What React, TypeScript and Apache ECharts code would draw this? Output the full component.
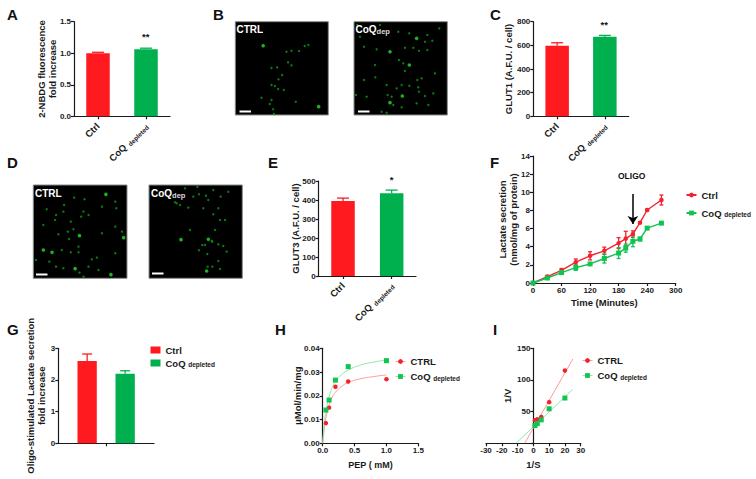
import React, { useEffect, useRef } from "react";
import * as echarts from "echarts";

const FONT = "Liberation Sans";
const RED = "#ff1a1f";
const GREEN = "#00b04f";
const RED_MARK = "#f5222d";
const GREEN_MARK = "#11c452";
const RED_FIT = "#ff9a9a";
const GREEN_FIT = "#8fe8a8";
const INK = "#1a1a1a";

const barCategories = ["Ctrl", "CoQ depleted"];
const aValues = [1.0, 1.065];
const aErrors = [0.015, 0.015];
const cValues = [597, 672];
const cErrors = [25, 12];
const eValues = [395, 435];
const eErrors = [15, 17];
const gCtrl = 2.6;
const gCtrlErr = 0.22;
const gCoq = 2.2;
const gCoqErr = 0.09;

const fTimes = [0, 30, 60, 90, 120, 150, 180, 195, 210, 225, 240, 270];
const fCtrl = [0, 0.7, 1.4, 2.3, 3.0, 3.55, 4.4, 4.9, 5.4, 6.65, 8.05, 9.15];
const fCtrlErr = [0, 0.15, 0.2, 0.35, 0.45, 0.4, 0.6, 0.8, 0.35, 0.1, 0.1, 0.55];
const fCoq = [0, 0.55, 1.15, 1.7, 2.1, 2.7, 3.3, 3.85, 4.6, 4.85, 6.05, 6.6];
const fCoqErr = [0, 0.1, 0.15, 0.3, 0.1, 0.5, 0.6, 0.45, 0.6, 0.2, 0.1, 0.1];

const hCtrlPts = [[0.05, 0.0085], [0.1, 0.015], [0.2, 0.0238], [0.4, 0.026], [1, 0.027]];
const hCoqPts = [[0.05, 0.014], [0.1, 0.0182], [0.2, 0.0266], [0.4, 0.0323], [1, 0.0348]];
const hCtrlFit = [[0, 0], [0.025, 0.006], [0.05, 0.0105], [0.1, 0.016], [0.15, 0.0195], [0.2, 0.0215], [0.3, 0.024], [0.4, 0.0256], [0.6, 0.0272], [0.8, 0.0281], [1, 0.0288]];
const hCoqFit = [[0, 0], [0.025, 0.0085], [0.05, 0.0135], [0.1, 0.0195], [0.15, 0.0235], [0.2, 0.026], [0.3, 0.029], [0.4, 0.0308], [0.6, 0.033], [0.8, 0.0342], [1, 0.0351]];

const iCtrlPts = [[1, 36.5], [2.5, 38], [5, 41.5], [10, 65], [20, 115]];
const iCoqPts = [[1, 28], [2.5, 31], [5, 37], [10, 54.5], [20, 71.5]];
const iCtrlFit = [[-5.5, 0], [25, 133]];
const iCoqFit = [[-11, 0], [25, 85]];

// Fluorescent spots of the four micrographs: [x, y, bright?] on a 0-280 field
const spotsB1 = [[84, 72, 1], [154, 90], [169, 87], [192, 88], [209, 73], [220, 70], [109, 139], [126, 137], [159, 122], [169, 131], [141, 160], [130, 173], [109, 190], [119, 193], [129, 202], [146, 205], [79, 228], [109, 235], [104, 247], [182, 240], [114, 263], [116, 277], [251, 255, 1]];
const spotsB2 = [[108, 90, 1], [166, 35], [188, 50, 1], [213, 60], [220, 40], [235, 57], [256, 20], [133, 30], [78, 10], [30, 75], [68, 83], [153, 78], [178, 78], [195, 87], [220, 85], [135, 115], [148, 125], [166, 130, 1], [153, 148], [63, 130], [64, 167], [30, 175], [6, 220], [38, 225], [98, 190], [128, 200], [143, 190], [166, 192], [190, 175], [203, 170], [193, 197], [195, 210], [243, 155], [101, 220], [113, 225], [108, 243, 1], [118, 250], [145, 223, 1], [213, 223], [188, 245], [223, 250], [83, 270], [98, 273], [143, 257], [18, 45], [10, 10], [238, 215]];
const spotsD1 = [[217, 28, 1], [153, 43], [122, 38], [92, 60], [40, 73], [68, 90], [65, 105], [90, 80], [30, 120], [112, 110], [150, 80], [143, 95], [165, 90], [205, 65], [248, 70], [245, 50], [120, 133], [103, 140], [75, 148], [138, 152, 1], [107, 162], [205, 145], [270, 158, 1], [245, 125], [265, 140], [30, 195, 1], [56, 202, 1], [85, 195], [112, 202], [135, 185], [135, 202], [8, 225], [48, 230], [68, 245], [125, 251, 1], [138, 263], [175, 223], [190, 218], [195, 255], [245, 205], [232, 269, 1], [150, 275], [90, 250], [165, 245]];
const spotsD2 = [[83, 55], [93, 60], [78, 52], [133, 35], [150, 28], [171, 32], [178, 45], [193, 15], [238, 20], [145, 5], [108, 10], [118, 68], [163, 70], [215, 35], [208, 70], [193, 88], [213, 105], [228, 105], [198, 135], [123, 135], [96, 164, 1], [160, 180], [168, 180], [178, 163, 1], [190, 170], [208, 178], [223, 183], [150, 196], [175, 207], [233, 200], [173, 258, 1], [176, 245], [190, 245], [213, 252], [208, 228], [188, 168]];

const rich = {
  a: { fontFamily: FONT, fontWeight: "bold", fontSize: 9.5, color: INK },
  b: { fontFamily: FONT, fontWeight: "bold", fontSize: 6.5, color: INK, verticalAlign: "bottom", padding: [3, 0, 0, 0] },
};
const coqLabel = "{a|CoQ} {b|depleted}";
const legendText = (name: string) => {
  const label = name.slice(2);
  return label === "CoQ" ? coqLabel : `{a|${label}}`;
};

const grids = [
  { left: 74, top: 21.7, width: 96, height: 94.6 }, // A
  { left: 533.3, top: 21.7, width: 95.4, height: 94.6 }, // C
  { left: 318.7, top: 181, width: 97.3, height: 95 }, // E
  { left: 533, top: 156, width: 142.7, height: 127 }, // F
  { left: 58.3, top: 348.3, width: 95.7, height: 95 }, // G
  { left: 322.7, top: 348.3, width: 95.6, height: 95 }, // H
  { left: 486, top: 348.3, width: 94.7, height: 95 }, // I
  { left: 235.3, top: 21.7, width: 93, height: 93.3 }, // B1
  { left: 354, top: 21.7, width: 93.3, height: 93.3 }, // B2
  { left: 33.3, top: 185, width: 93.7, height: 93.3 }, // D1
  { left: 149, top: 185, width: 93.3, height: 93.3 }, // D2
];

const axisLine = { show: true, onZero: false, lineStyle: { color: INK, width: 1.2 } };
const axisTick = { show: true, length: 3, lineStyle: { color: INK, width: 1.2 } };
const tickLabel = { fontFamily: FONT, fontWeight: "bold", fontSize: 8, color: INK, margin: 3 };
const nameStyle = { fontFamily: FONT, fontWeight: "bold", fontSize: 9.5, color: INK, lineHeight: 11 };

const valueY = (gridIndex: number, max: number, interval: number, name: string, nameGap: number, digits = 0, extra: any = {}) => ({
  type: "value", gridIndex, min: 0, max, interval, name, nameLocation: "middle", nameGap, nameMoveOverlap: false,
  nameTextStyle: nameStyle, axisLine, axisTick, splitLine: { show: false },
  axisLabel: { ...tickLabel, formatter: (v: number) => v.toFixed(digits) }, ...extra,
});

const categoryX = (gridIndex: number) => ({
  type: "category", gridIndex, data: barCategories, axisLine,
  axisTick: { ...axisTick, alignWithLabel: true },
  axisLabel: {
    rotate: 45, margin: 8, interval: 0, rich,
    formatter: (v: string) => (v === "Ctrl" ? "{a|Ctrl}" : coqLabel),
  },
});

const errorBars = (xAxisIndex: number, yAxisIndex: number, data: number[][], color: string | string[], both: boolean, cap: number, offset = 0) => ({
  type: "custom", xAxisIndex, yAxisIndex, silent: true, data, encode: { x: 0, y: 1 },
  renderItem: (params: any, api: any) => {
    const x = api.value(0), y = api.value(1), e = api.value(2);
    const t = api.coord([x, y + e]);
    const b = api.coord([x, both ? y - e : y]);
    const stroke = Array.isArray(color) ? color[params.dataIndex] : color;
    const style = { stroke, lineWidth: 1.3, fill: "none" };
    const px = t[0] + offset;
    const children: any[] = [
      { type: "line", shape: { x1: px, y1: t[1], x2: px, y2: b[1] }, style },
      { type: "line", shape: { x1: px - cap, y1: t[1], x2: px + cap, y2: t[1] }, style },
    ];
    if (both) children.push({ type: "line", shape: { x1: px - cap, y1: b[1], x2: px + cap, y2: b[1] }, style });
    return { type: "group", children };
  },
});

const twoBars = (axis: number, values: number[]) => ({
  type: "bar", xAxisIndex: axis, yAxisIndex: axis, barWidth: 23.5, silent: true,
  data: values.map((value, i) => ({ value, itemStyle: { color: i === 0 ? RED : GREEN } })),
});

const pairErr = (values: number[], errs: number[]) => values.map((v, i) => [i, v, errs[i]]);
const imageSeries = (axis: number, data: number[][]) => ({
  type: "scatter", xAxisIndex: axis, yAxisIndex: axis, silent: true, data,
  symbolSize: (v: number[]) => (v[2] ? 3.6 : 2.4),
  itemStyle: { color: (p: any) => (p.value[2] ? "#25e025" : "#0c9a1a") },
});

const legendBase = (left: number, top: number, itemGap: number, data: any[], extra: any = {}) => ({
  show: true, orient: "vertical", left, top, itemGap, itemWidth: 10, itemHeight: 6, padding: 0, data,
  formatter: legendText, selectedMode: false, textStyle: { rich, fontFamily: FONT, fontWeight: "bold", fontSize: 9.5, color: INK },
  ...extra,
});
const withLine = (name: string, color: string) => ({ name, lineStyle: { color, width: 1, opacity: 1, type: "solid" } });

const letter = (text: string, x: number, y: number) => ({
  type: "text", x, y, z: 20, style: { text, fontFamily: FONT, fontWeight: "bold", fontSize: 15, fill: "#111", verticalAlign: "middle" },
});
const star = (text: string, x: number, y: number) => ({
  type: "text", x, y, z: 20, style: { text, fontFamily: FONT, fontWeight: "bold", fontSize: 9.5, fill: "#111", align: "center", verticalAlign: "middle" },
});
const microRich = {
  a: { fontFamily: FONT, fontWeight: "bold", fontSize: 10, fill: "#fff", color: "#fff" },
  b: { fontFamily: FONT, fontWeight: "bold", fontSize: 7.5, fill: "#ddd", color: "#ddd", verticalAlign: "bottom", padding: [4, 0, 0, 0] },
};
const microLabel = (text: string, x: number, y: number) => ({
  type: "text", x, y, z: 20, style: { text, rich: microRich, verticalAlign: "middle" },
});
const scaleBar = (x: number, y: number) => ({
  type: "rect", z: 20, shape: { x, y, width: 11.5, height: 2 }, style: { fill: "#fff" },
});

export default function App() {
  const ref = useRef<HTMLDivElement>(null);
  useEffect(() => {
    const chart = echarts.init(ref.current!, undefined, { renderer: "svg" });
    const hiddenAxes = [7, 8, 9, 10];
    const option: any = {
      animation: false,
      backgroundColor: "#ffffff",
      textStyle: { fontFamily: FONT },
      grid: grids.map((g, i) => ({
        ...g, containLabel: false,
        ...(i >= 7 ? { show: true, backgroundColor: "#000", borderColor: "#8a8a8a", borderWidth: 1 } : {}),
      })),
      xAxis: [
        categoryX(0),
        categoryX(1),
        categoryX(2),
        {
          type: "value", gridIndex: 3, min: 0, max: 300, interval: 60, name: "Time (Minutes)", nameLocation: "middle", nameGap: 14, nameMoveOverlap: false,
          nameTextStyle: { ...nameStyle, fontSize: 9.5 }, axisLine, axisTick, splitLine: { show: false }, axisLabel: tickLabel,
        },
        {
          type: "category", gridIndex: 4, data: [""], axisLine, axisTick: { ...axisTick, alignWithLabel: true },
          axisLabel: { show: false },
        },
        {
          type: "value", gridIndex: 5, min: 0, max: 1.5, interval: 0.5, name: "PEP ( mM)", nameLocation: "middle", nameGap: 16, nameMoveOverlap: false,
          nameTextStyle: { ...nameStyle, fontSize: 9 }, axisLine, axisTick, splitLine: { show: false },
          axisLabel: { ...tickLabel, formatter: (v: number) => v.toFixed(1) },
        },
        {
          type: "value", gridIndex: 6, min: -30, max: 30, interval: 10, name: "1/S", nameLocation: "middle", nameGap: 16, nameMoveOverlap: false,
          nameTextStyle: nameStyle, axisLine, axisTick, splitLine: { show: false }, axisLabel: tickLabel,
        },
        ...hiddenAxes.map((gridIndex) => ({ type: "value", gridIndex, min: 0, max: 280, show: false, splitLine: { show: false } })),
      ],
      yAxis: [
        valueY(0, 1.5, 0.5, "2-NBDG fluorescence\nfold increase", 16, 1),
        valueY(1, 800, 200, "GLUT1 (A.F.U. / cell)", 19),
        valueY(2, 500, 100, "GLUT3 (A.F.U. / cell)", 18),
        valueY(3, 14, 2, "Lactate secretion\n(nmol/mg of protein)", 14),
        valueY(4, 3, 1, "Oligo-stimulated Lactate secretion\nfold increase", 11),
        valueY(5, 0.04, 0.01, "μMol/min/mg", 20, 2),
        valueY(6, 150, 50, "1/V", 20, 0, {
          offset: -47.35,
          axisLabel: { ...tickLabel, formatter: (v: number) => (v === 0 ? "" : String(v)) },
        }),
        ...hiddenAxes.map((gridIndex) => ({ type: "value", gridIndex, min: 0, max: 280, inverse: true, show: false, splitLine: { show: false } })),
      ],
      legend: [
        legendBase(685.5, 190, 8, ["F Ctrl", "F CoQ"]),
        legendBase(150.5, 345, 3, ["G Ctrl", "G CoQ"], { icon: "rect", itemHeight: 7 }),
        legendBase(395, 356.5, 5, [withLine("H CTRL", RED_FIT), withLine("H CoQ", GREEN_FIT)]),
        legendBase(582, 355.5, 5, [withLine("I CTRL", RED_FIT), withLine("I CoQ", GREEN_FIT)]),
      ],
      series: [
        errorBars(0, 0, pairErr(aValues, aErrors), [RED, GREEN], false, 6),
        twoBars(0, aValues),
        errorBars(1, 1, pairErr(cValues, cErrors), [RED, GREEN], false, 6),
        twoBars(1, cValues),
        errorBars(2, 2, pairErr(eValues, eErrors), [RED, GREEN], false, 6),
        twoBars(2, eValues),

        errorBars(3, 3, fTimes.map((t, i) => [t, fCtrl[i], fCtrlErr[i]]), RED_MARK, true, 2),
        errorBars(3, 3, fTimes.map((t, i) => [t, fCoq[i], fCoqErr[i]]), GREEN_MARK, true, 2),
        {
          type: "line", name: "F Ctrl", xAxisIndex: 3, yAxisIndex: 3, silent: true, data: fTimes.map((t, i) => [t, fCtrl[i]]),
          symbol: "circle", symbolSize: 4.5, lineStyle: { color: RED_MARK, width: 1.4 }, itemStyle: { color: RED_MARK },
          markLine: {
            silent: true, symbol: ["none", "arrow"], symbolSize: 8, label: { show: false }, animation: false,
            lineStyle: { color: "#000", width: 1.5, type: "solid" },
            data: [[{ coord: [210, 9.8] }, { coord: [210, 6.5] }]],
          },
        },
        {
          type: "line", name: "F CoQ", xAxisIndex: 3, yAxisIndex: 3, silent: true, data: fTimes.map((t, i) => [t, fCoq[i]]),
          symbol: "rect", symbolSize: 5, lineStyle: { color: GREEN_MARK, width: 1.4 }, itemStyle: { color: GREEN_MARK },
        },

        errorBars(4, 4, [[0, gCtrl, gCtrlErr]], RED, false, 5, -19),
        errorBars(4, 4, [[0, gCoq, gCoqErr]], GREEN, false, 5, 19),
        { type: "bar", name: "G Ctrl", xAxisIndex: 4, yAxisIndex: 4, silent: true, barWidth: 19.3, barGap: "97%", data: [gCtrl], itemStyle: { color: RED } },
        { type: "bar", name: "G CoQ", xAxisIndex: 4, yAxisIndex: 4, silent: true, barWidth: 19.3, barGap: "97%", data: [gCoq], itemStyle: { color: GREEN } },

        { type: "line", xAxisIndex: 5, yAxisIndex: 5, silent: true, smooth: true, symbol: "none", data: hCtrlFit, lineStyle: { color: RED_FIT, width: 1 } },
        { type: "line", xAxisIndex: 5, yAxisIndex: 5, silent: true, smooth: true, symbol: "none", data: hCoqFit, lineStyle: { color: GREEN_FIT, width: 1 } },
        { type: "line", name: "H CTRL", xAxisIndex: 5, yAxisIndex: 5, silent: true, data: hCtrlPts, symbol: "circle", symbolSize: 4.5, lineStyle: { opacity: 0, width: 0 }, itemStyle: { color: RED_MARK } },
        { type: "line", name: "H CoQ", xAxisIndex: 5, yAxisIndex: 5, silent: true, data: hCoqPts, symbol: "rect", symbolSize: 5, lineStyle: { opacity: 0, width: 0 }, itemStyle: { color: GREEN_MARK } },

        { type: "line", xAxisIndex: 6, yAxisIndex: 6, silent: true, symbol: "none", data: iCtrlFit, lineStyle: { color: RED_FIT, width: 1 } },
        { type: "line", xAxisIndex: 6, yAxisIndex: 6, silent: true, symbol: "none", data: iCoqFit, lineStyle: { color: GREEN_FIT, width: 1 } },
        { type: "line", name: "I CTRL", xAxisIndex: 6, yAxisIndex: 6, silent: true, data: iCtrlPts, symbol: "circle", symbolSize: 4.5, lineStyle: { opacity: 0, width: 0 }, itemStyle: { color: RED_MARK } },
        { type: "line", name: "I CoQ", xAxisIndex: 6, yAxisIndex: 6, silent: true, data: iCoqPts, symbol: "rect", symbolSize: 5, lineStyle: { opacity: 0, width: 0 }, itemStyle: { color: GREEN_MARK } },

        imageSeries(7, spotsB1),
        imageSeries(8, spotsB2),
        imageSeries(9, spotsD1),
        imageSeries(10, spotsD2),
      ],
      graphic: [
        letter("A", 7, 14),
        letter("B", 213, 14),
        letter("C", 490, 14),
        letter("D", 7, 162),
        letter("E", 268, 162),
        letter("F", 490, 162),
        letter("G", 7, 329),
        letter("H", 275, 329),
        letter("I", 493, 329),
        star("**", 145.7, 36),
        star("**", 604.3, 24),
        star("*", 391.7, 179),
        {
          type: "text", x: 631.7, y: 175.7, z: 20,
          style: { text: "OLIGO", fontFamily: FONT, fontWeight: "bold", fontSize: 8.5, fill: "#111", align: "center", verticalAlign: "middle" },
        },
        microLabel("{a|CTRL}", 236.5, 29.5),
        microLabel("{a|CoQ}{b|dep}", 355.5, 29.5),
        microLabel("{a|CTRL}", 35, 193),
        microLabel("{a|CoQ}{b|dep}", 151, 193),
        scaleBar(239.5, 110.5),
        scaleBar(358, 110.5),
        scaleBar(36, 273.5),
        scaleBar(152, 272.5),
      ],
    };
    chart.setOption(option);
    return () => chart.dispose();
  }, []);
  return <div ref={ref} style={{ position: "absolute", left: 0, top: 0, width: 756, height: 479 }} />;
}
